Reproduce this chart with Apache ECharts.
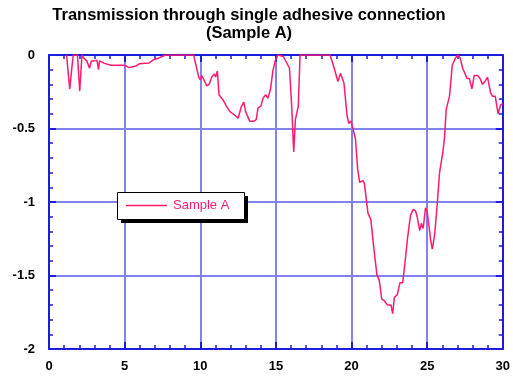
<!DOCTYPE html>
<html>
<head>
<meta charset="utf-8">
<script src="https://cdn.jsdelivr.net/npm/echarts@6/dist/echarts.min.js"></script>
<style>html,body{margin:0;padding:0;background:#fff;}#c{width:513px;height:379px;}</style>
</head>
<body>
<div id="c"></div>
<script>
var titleLines = ['Transmission through single adhesive connection', '(Sample A)'];
var seriesName = 'Sample A';
var xTicks = [0, 5, 10, 15, 20, 25, 30];
var yTicks = [-2, -1.5, -1, -0.5, 0];

var xValues = [
  1.16, 1.37, 1.6, 1.88, 2.03, 2.18, 2.3, 2.5, 2.68, 2.8,
  3.0, 3.17, 3.27, 3.34, 3.67, 4.1, 4.98, 5.3, 5.74, 5.96,
  6.6, 6.94, 7.27, 7.7, 9.56, 9.9, 10.0, 10.1, 10.2, 10.43,
  10.59, 10.76, 10.94, 11.02, 11.13, 11.24, 11.53, 11.74, 11.96, 12.29,
  12.5, 12.72, 12.88, 13.0, 13.27, 13.55, 13.7, 13.82, 14.0, 14.15,
  14.32, 14.47, 14.65, 14.8, 14.95, 15.13, 15.5, 15.9, 16.04, 16.18,
  16.29, 16.48, 16.6, 18.58, 18.8, 19.1, 19.27, 19.5, 19.7, 19.82,
  19.97, 20.26, 20.41, 20.54, 20.76, 20.85, 21.09, 21.28, 21.46, 21.68,
  21.83, 22.0, 22.15, 22.37, 22.61, 22.72, 22.83, 23.03, 23.2, 23.38,
  23.53, 23.71, 23.9, 24.08, 24.23, 24.34, 24.51, 24.62, 24.74, 24.89,
  25.0, 25.13, 25.23, 25.34, 25.5, 25.67, 25.82, 26.04, 26.15, 26.26,
  26.48, 26.66, 26.87, 27.03, 27.18, 27.35, 27.46, 27.64, 27.79, 27.96,
  28.11, 28.33, 28.5, 28.66, 28.82, 28.99, 29.2, 29.32, 29.5, 29.69,
  29.86, 30.0
];
var transmission = [
  0, -0.23, 0, 0, -0.245, 0, -0.02, -0.04, -0.09, -0.04,
  -0.04, -0.035, -0.1, -0.04, -0.057, -0.07, -0.07, -0.086, -0.075, -0.06,
  -0.055, -0.03, -0.02, 0, 0, -0.15, -0.17, -0.14, -0.16, -0.21,
  -0.2, -0.15, -0.13, -0.15, -0.11, -0.27, -0.31, -0.35, -0.385, -0.41,
  -0.43, -0.35, -0.32, -0.385, -0.45, -0.45, -0.44, -0.36, -0.35, -0.295,
  -0.27, -0.295, -0.23, -0.11, -0.04, 0, -0.01, -0.09, -0.34, -0.66,
  -0.44, -0.35, 0, 0, -0.07, -0.18, -0.125, -0.19, -0.41, -0.465,
  -0.45, -0.57, -0.78, -0.866, -0.855, -0.873, -1.077, -1.12, -1.30, -1.497,
  -1.53, -1.66, -1.67, -1.70, -1.70, -1.76, -1.65, -1.63, -1.55, -1.55,
  -1.42, -1.24, -1.09, -1.05, -1.06, -1.10, -1.195, -1.145, -1.18, -1.04,
  -1.066, -1.17, -1.26, -1.32, -1.22, -1.01, -0.80, -0.66, -0.56, -0.37,
  -0.28, -0.07, -0.02, 0, -0.02, -0.09, -0.085, -0.16, -0.16, -0.23,
  -0.14, -0.14, -0.16, -0.2, -0.18, -0.15, -0.26, -0.28, -0.28, -0.40,
  -0.34, -0.33
];

var data = xValues.map(function (x, i) { return [x, transmission[i]]; });

var axisBlue = '#1c1cdc';
var gridBlue = '#8282ee';
var pink = '#ff1a70';
var FONT = '"Liberation Sans", Arial, sans-serif';

function baseAxis(extra) {
  var a = {
    type: 'value',
    axisLine: { show: true, onZero: false, lineStyle: { color: axisBlue, width: 2 } },
    axisTick: { show: true, inside: true, length: 7, lineStyle: { color: axisBlue, width: 2 } },
    minorTick: { show: true, splitNumber: 5, length: 4, lineStyle: { color: axisBlue, width: 1.5 } },
    splitLine: { show: false },
    axisLabel: { show: false }
  };
  for (var k in extra) a[k] = extra[k];
  return a;
}

var chart = echarts.init(document.getElementById('c'), null, { renderer: 'canvas' });
chart.setOption({
  animation: false,
  backgroundColor: '#ffffff',
  title: {
    text: titleLines.join('\n'),
    left: 244,
    textAlign: 'center',
    top: 1,
    textStyle: { fontFamily: FONT, fontWeight: 'bold', fontSize: 16.5, lineHeight: 18, color: '#000' }
  },
  graphic: [
    { type: 'rect', shape: { x: 121, y: 196, width: 127, height: 27 }, style: { fill: '#000' }, z: 20 },
    { type: 'rect', shape: { x: 117.5, y: 192.5, width: 127, height: 27 }, style: { fill: '#fff', stroke: '#000', lineWidth: 1 }, z: 21 }
  ],
  legend: {
    data: [{ name: seriesName, icon: 'rect' }],
    left: 117,
    top: 193,
    z: 30,
    orient: 'vertical',
    itemWidth: 41,
    itemHeight: 1.5,
    itemGap: 0,
    padding: [6, 15, 6, 9],
    textStyle: { fontFamily: FONT, fontSize: 13, color: pink, padding: [0, 0, 0, 1] }
  },
  grid: { left: 49, right: 6, top: 55, bottom: 30, containLabel: false },
  xAxis: [
    baseAxis({
      position: 'bottom', min: xTicks[0], max: xTicks[xTicks.length - 1], interval: 5,
      splitLine: { show: true, lineStyle: { color: gridBlue, width: 2 } },
      axisLabel: { show: true, margin: 11, fontFamily: FONT, fontWeight: 'bold', fontSize: 13, color: '#000' }
    }),
    baseAxis({ position: 'top', min: xTicks[0], max: xTicks[xTicks.length - 1], interval: 5 })
  ],
  yAxis: [
    baseAxis({
      position: 'left', min: yTicks[0], max: yTicks[yTicks.length - 1], interval: 0.5,
      splitLine: { show: true, lineStyle: { color: gridBlue, width: 2 } },
      axisLabel: { show: true, margin: 14, fontFamily: FONT, fontWeight: 'bold', fontSize: 13, color: '#000' }
    }),
    baseAxis({ position: 'right', min: yTicks[0], max: yTicks[yTicks.length - 1], interval: 0.5 })
  ],
  series: [{
    name: seriesName,
    type: 'line',
    xAxisIndex: 0,
    yAxisIndex: 0,
    data: data,
    symbol: 'none',
    showSymbol: false,
    clip: true,
    color: pink,
    lineStyle: { color: pink, width: 1.5 },
    z: 5
  }]
});
</script>
</body>
</html>
